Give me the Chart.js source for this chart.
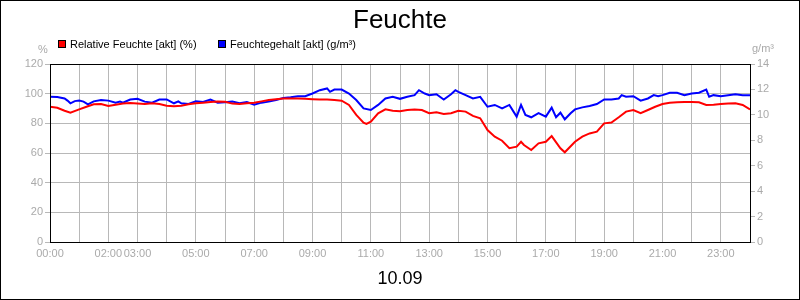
<!DOCTYPE html>
<html>
<head>
<meta charset="utf-8">
<script src="https://cdn.jsdelivr.net/npm/chart.js@4/dist/chart.umd.min.js"></script>
<style>
  html, body { margin: 0; padding: 0; background: #fff; }
  canvas { display: block; }
</style>
</head>
<body>
<canvas id="c" width="800" height="300"></canvas>
<script>
// ---- Data ----
const chartTitle = "Feuchte";
const dateLabel = "10.09";
const seriesNames = ["Relative Feuchte [akt] (%)", "Feuchtegehalt [akt] (g/m³)"];
const leftUnit = "%";
const rightUnit = "g/m³";
const xTickLabels = ["00:00","02:00","03:00","05:00","07:00","09:00","11:00","13:00","15:00","17:00","19:00","21:00","23:00"];

const rfTimes = ["00:00","00:15","00:30","00:42","01:00","01:15","01:30","01:45","02:00","02:15","02:30","02:45","03:00","03:15","03:30","03:45","04:00","04:15","04:30","04:45","05:00","05:15","05:30","05:45","06:00","06:15","06:30","06:45","07:00","07:15","07:30","07:45","08:00","08:15","08:30","08:45","09:00","09:15","09:30","09:45","10:00","10:15","10:30","10:45","10:51","11:00","11:15","11:30","11:45","12:00","12:15","12:30","12:45","13:00","13:15","13:30","13:45","14:00","14:15","14:30","14:45","15:00","15:15","15:30","15:45","16:00","16:09","16:15","16:30","16:45","17:00","17:12","17:30","17:39","18:00","18:15","18:30","18:45","19:00","19:15","19:30","19:45","20:00","20:15","20:30","20:45","21:00","21:15","21:30","21:45","22:00","22:15","22:30","22:45","23:00","23:15","23:30","23:45","24:00"];
const rfValues = [91.2,90.5,88.5,87.2,89.4,91.2,92.8,93,91.7,92.6,93.3,93.7,93.3,93,93.5,93,91.9,91.5,91.9,92.8,93.5,93.9,94.4,94.8,94.6,93.3,93,93.5,93.9,94.8,95.7,96.3,96.8,96.8,96.8,96.6,96.3,96.1,96.1,95.7,95.3,92.4,85.7,80.5,79.6,81.1,86.8,89.4,88.5,88.2,89,89.4,89,86.8,87.4,86.3,86.8,88.5,87.9,85,83.4,75.5,71,68.3,63.2,64.3,67.6,65.4,62,66.5,67.6,71.4,63.2,60.5,67.6,71,73.2,74.4,80,80.5,84.1,87.9,89,86.8,89,91.2,93,93.9,94.2,94.4,94.4,94.2,92.4,92.6,93,93.3,93.5,92.4,89.4];

const fgTimes = ["00:00","00:15","00:30","00:36","00:42","00:51","01:00","01:09","01:18","01:30","01:45","02:00","02:15","02:24","02:30","02:45","03:00","03:15","03:30","03:45","04:00","04:15","04:24","04:30","04:45","05:00","05:15","05:30","05:45","06:00","06:15","06:30","06:45","07:00","07:15","07:30","07:45","08:00","08:15","08:30","08:45","09:00","09:15","09:30","09:36","09:45","10:00","10:15","10:30","10:45","11:00","11:15","11:30","11:45","12:00","12:15","12:30","12:39","12:51","13:00","13:15","13:30","13:45","13:54","14:00","14:15","14:30","14:45","15:00","15:15","15:30","15:45","16:00","16:09","16:18","16:30","16:45","17:00","17:12","17:21","17:30","17:39","17:51","18:00","18:15","18:30","18:45","19:00","19:15","19:30","19:36","19:45","20:00","20:15","20:30","20:42","20:51","21:00","21:15","21:30","21:45","22:00","22:15","22:30","22:36","22:45","23:00","23:15","23:30","23:45","24:00"];
const fgValues = [11.43,11.40,11.29,11.12,10.91,11.08,11.12,11.04,10.83,11.06,11.17,11.12,10.96,11.04,10.96,11.21,11.27,11.04,10.96,11.21,11.21,10.91,11.06,10.91,10.85,11.06,11.01,11.21,10.96,10.99,11.04,10.91,11.01,10.80,10.96,11.04,11.17,11.32,11.38,11.47,11.47,11.68,11.94,12.08,11.81,11.99,11.99,11.68,11.17,10.51,10.38,10.78,11.29,11.42,11.26,11.42,11.55,11.94,11.68,11.55,11.62,11.21,11.62,11.94,11.81,11.55,11.29,11.42,10.64,10.78,10.51,10.78,9.86,10.78,10.00,9.81,10.13,9.86,10.57,9.81,10.17,9.65,10.13,10.43,10.59,10.70,10.85,11.21,11.21,11.29,11.55,11.42,11.47,11.12,11.29,11.55,11.47,11.55,11.74,11.74,11.55,11.68,11.74,11.99,11.42,11.55,11.47,11.55,11.62,11.55,11.55];

// ---- Helpers ----
const toHours = t => { const [h, m] = t.split(':').map(Number); return h + m / 60; };
const fmtHour = v => String(Math.round(v)).padStart(2, '0') + ':00';
const pts = (times, vals) => times.map((t, i) => ({ x: toHours(t), y: vals[i] }));

const FONT = "'Liberation Sans', Arial, sans-serif";
const GRID = '#b8b8b8';
const TICK = '#aaaaaa';

const deco = {
  id: 'deco',
  beforeDraw(chart) {
    const ctx = chart.ctx;
    ctx.save();
    ctx.fillStyle = '#fff';
    ctx.fillRect(0, 0, chart.width, chart.height);
    ctx.restore();
  },
  afterDatasetsDraw(chart) {
    const ctx = chart.ctx;
    const a = chart.chartArea;
    ctx.save();
    // plot frame
    ctx.strokeStyle = '#000';
    ctx.lineWidth = 1;
    ctx.strokeRect(Math.round(a.left) + 0.5, Math.round(a.top) + 0.5, Math.round(a.right - a.left), Math.round(a.bottom - a.top));
    // outer frame
    ctx.strokeRect(0.5, 0.5, chart.width - 1, chart.height - 1);
    // title
    ctx.fillStyle = '#000';
    ctx.textAlign = 'center';
    ctx.textBaseline = 'alphabetic';
    ctx.font = "26px " + FONT;
    ctx.fillText(chartTitle, chart.width / 2, 28);
    ctx.font = "18px " + FONT;
    ctx.fillText(dateLabel, chart.width / 2, 284);
    // legend
    ctx.font = "11px " + FONT;
    ctx.textAlign = 'left';
    const legendX = [58, 218];
    chart.data.datasets.forEach((ds, i) => {
      ctx.fillStyle = ds.borderColor;
      ctx.fillRect(legendX[i], 40, 8, 8);
      ctx.strokeStyle = '#000';
      ctx.strokeRect(legendX[i] + 0.5, 40.5, 7, 7);
      ctx.fillStyle = '#000';
      ctx.fillText(ds.label, legendX[i] + 12, 48);
    });
    // unit labels
    ctx.fillStyle = TICK;
    ctx.textAlign = 'center';
    ctx.fillText(leftUnit, 43, 53);
    ctx.fillText(rightUnit, 763, 52);
    ctx.restore();
  }
};

new Chart(document.getElementById('c'), {
  type: 'line',
  data: {
    datasets: [
      { label: seriesNames[0], data: pts(rfTimes, rfValues), borderColor: '#ff0000', backgroundColor: '#ff0000', yAxisID: 'y' },
      { label: seriesNames[1], data: pts(fgTimes, fgValues), borderColor: '#0000ff', backgroundColor: '#0000ff', yAxisID: 'y1' }
    ]
  },
  options: {
    responsive: false,
    animation: false,
    layout: { padding: { top: 64, left: 0, right: 0, bottom: 0 } },
    plugins: { legend: { display: false }, tooltip: { enabled: false }, title: { display: false } },
    elements: { point: { radius: 0 }, line: { borderWidth: 2, tension: 0 } },
    scales: {
      x: {
        type: 'linear', min: 0, max: 24,
        afterBuildTicks: s => { const t = []; for (let h = 0; h <= 24; h++) t.push({ value: h }); s.ticks = t; },
        afterFit: s => { s.height = 58; },
        grid: { color: GRID, drawTicks: false },
        border: { color: '#000' },
        ticks: {
          autoSkip: false, maxRotation: 0, padding: 5, color: TICK,
          font: { family: FONT, size: 11 },
          callback: v => { const l = fmtHour(v); return xTickLabels.includes(l) ? l : ''; }
        }
      },
      y: {
        position: 'left', min: 0, max: 120,
        afterFit: s => { s.width = 50; },
        grid: { color: GRID, tickLength: 5 },
        border: { color: '#000' },
        ticks: { stepSize: 20, padding: 2, color: TICK, font: { family: FONT, size: 11 } }
      },
      y1: {
        position: 'right', min: 0, max: 14,
        afterFit: s => { s.width = 50; },
        grid: { color: GRID, tickLength: 5, drawOnChartArea: false },
        border: { color: '#000' },
        ticks: { stepSize: 2, padding: 2, color: TICK, font: { family: FONT, size: 11 } }
      }
    }
  },
  plugins: [deco]
});
</script>
</body>
</html>
